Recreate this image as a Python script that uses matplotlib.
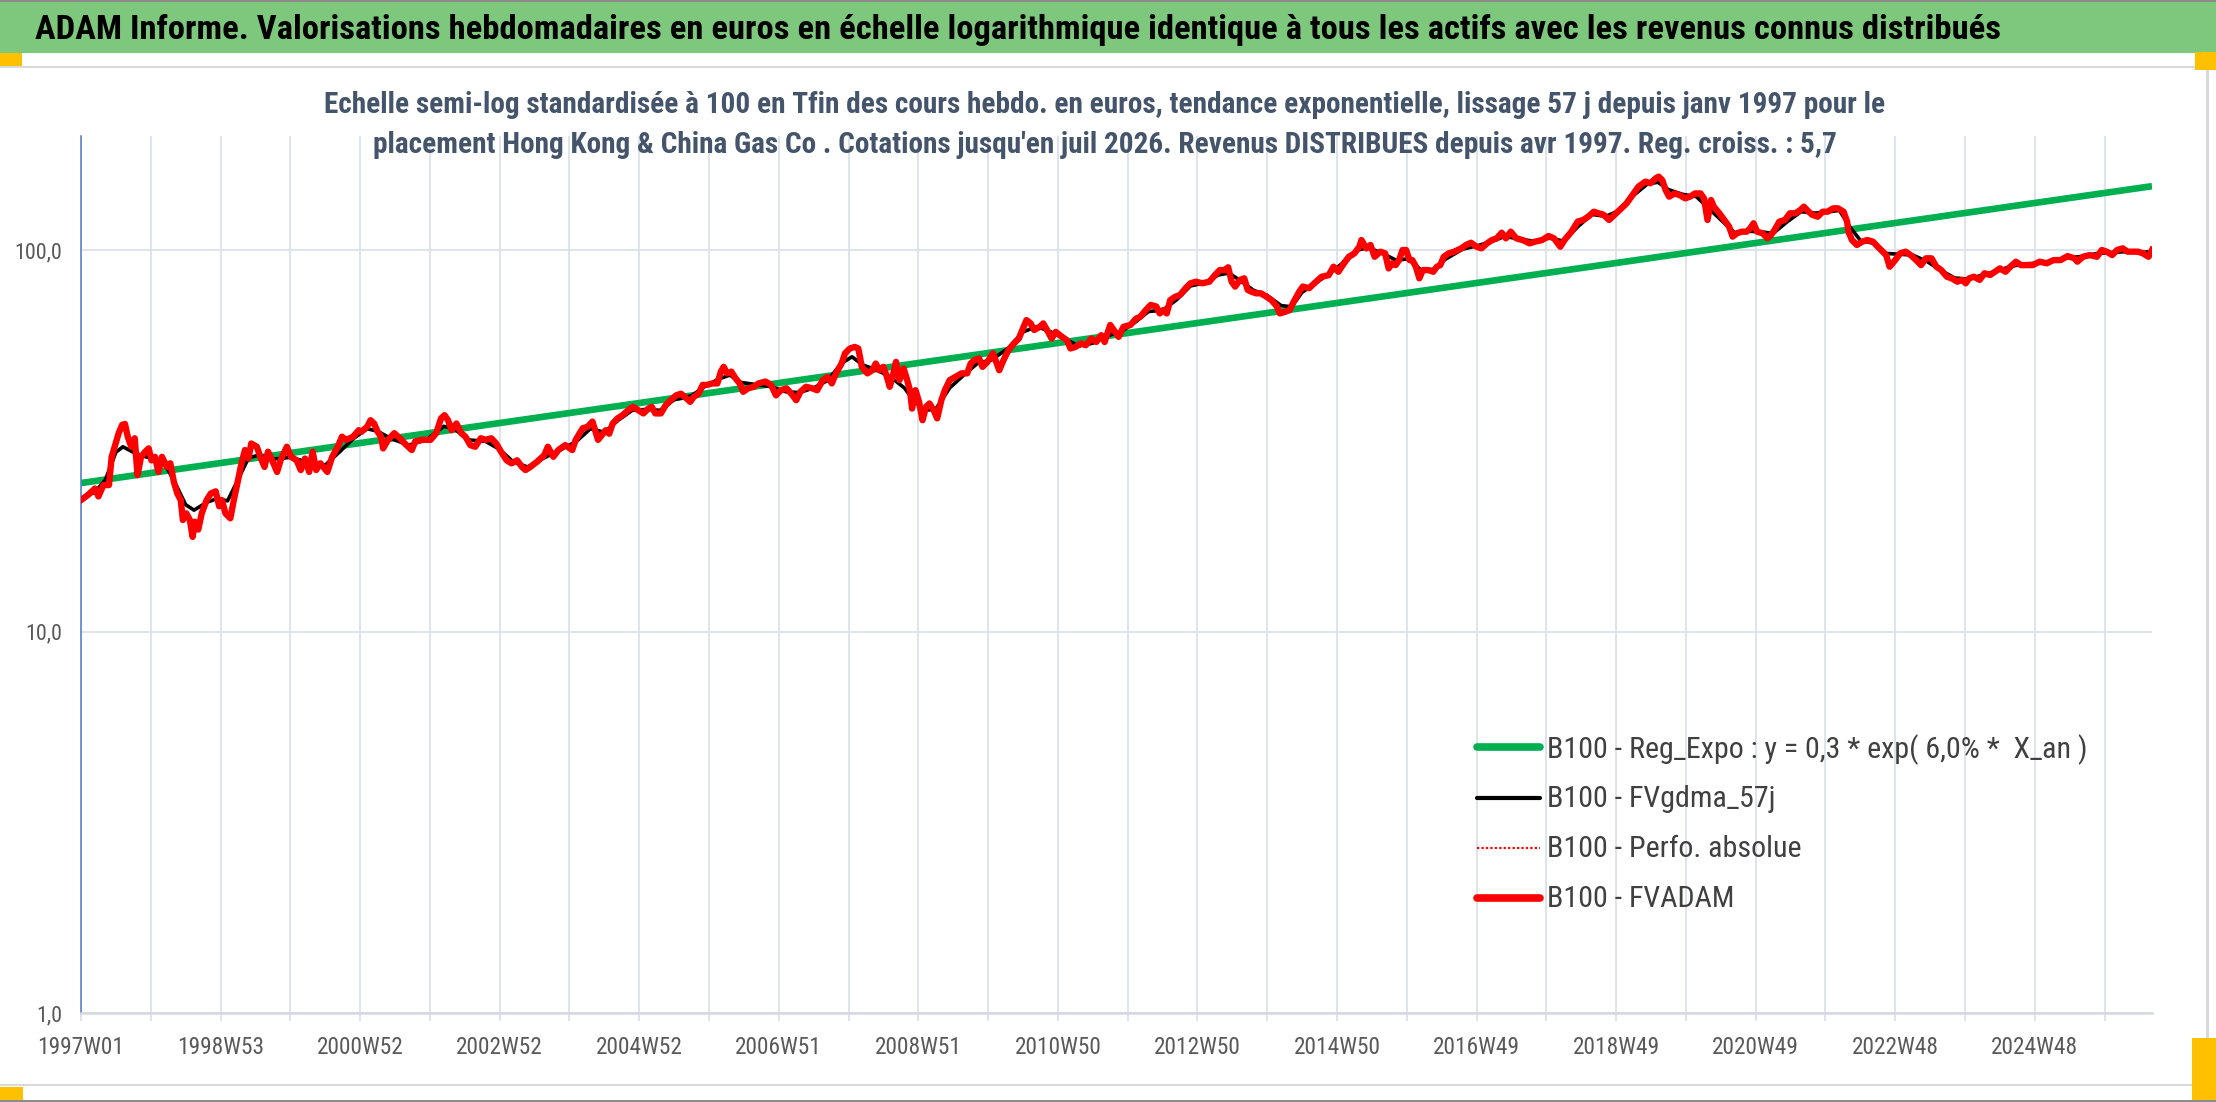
import matplotlib
matplotlib.use("Agg")
import matplotlib.pyplot as plt
from matplotlib import font_manager as fm
from matplotlib.patches import Rectangle
from matplotlib.lines import Line2D
from matplotlib.ticker import FixedLocator, FixedFormatter, NullFormatter, NullLocator

# ---------------- data ----------------
tick_labels = ["1997W01", "1998W53", "2000W52", "2002W52", "2004W52", "2006W51",
               "2008W51", "2010W50", "2012W50", "2014W50", "2016W49", "2018W49",
               "2020W49", "2022W48", "2024W48"]
tick_years = [1997, 1999, 2001, 2003, 2005, 2007, 2009, 2011, 2013, 2015, 2017,
              2019, 2021, 2023, 2025]
ytick_values = [1, 10, 100]
ytick_labels = ["1,0", "10,0", "100,0"]

trend_dates = [1997.0, 2026.68]
trend_values = [24.5, 147.0]

red_dates = [
    1997.00, 1997.10, 1997.20, 1997.25, 1997.32, 1997.40, 1997.44, 1997.49, 1997.54, 1997.59,
    1997.63, 1997.67, 1997.72, 1997.77, 1997.81, 1997.86, 1997.92, 1997.97, 1998.01, 1998.06,
    1998.11, 1998.16, 1998.23, 1998.28, 1998.33, 1998.38, 1998.43, 1998.46, 1998.51, 1998.56,
    1998.60, 1998.63, 1998.68, 1998.73, 1998.80, 1998.86, 1998.93, 1998.98, 1999.02, 1999.07,
    1999.14, 1999.19, 1999.25, 1999.30, 1999.35, 1999.40, 1999.44, 1999.52, 1999.57, 1999.63,
    1999.68, 1999.74, 1999.81, 1999.86, 1999.95, 2000.01, 2000.09, 2000.15, 2000.21, 2000.27,
    2000.32, 2000.37, 2000.43, 2000.53, 2000.60, 2000.68, 2000.74, 2000.80, 2000.90, 2000.98,
    2001.02, 2001.10, 2001.15, 2001.20, 2001.25, 2001.30, 2001.33, 2001.40, 2001.49, 2001.57,
    2001.64, 2001.74, 2001.79, 2001.89, 2002.01, 2002.09, 2002.16, 2002.21, 2002.26, 2002.31,
    2002.35, 2002.38, 2002.45, 2002.51, 2002.58, 2002.65, 2002.73, 2002.80, 2002.88, 2002.95,
    2003.02, 2003.10, 2003.17, 2003.25, 2003.32, 2003.37, 2003.44, 2003.54, 2003.64, 2003.69,
    2003.77, 2003.84, 2003.94, 2004.04, 2004.09, 2004.19, 2004.26, 2004.33, 2004.41,
    2004.52, 2004.57, 2004.62, 2004.69, 2004.76, 2004.84, 2004.91, 2004.99, 2005.06, 2005.13,
    2005.18, 2005.23, 2005.31, 2005.38, 2005.45, 2005.53, 2005.60, 2005.68, 2005.73, 2005.78,
    2005.85, 2005.91, 2005.97, 2006.05, 2006.12, 2006.17, 2006.21, 2006.26, 2006.32, 2006.38,
    2006.44, 2006.49, 2006.56, 2006.64, 2006.71, 2006.81, 2006.89, 2006.96, 2007.03, 2007.11,
    2007.18, 2007.25, 2007.31, 2007.39, 2007.48, 2007.55, 2007.63, 2007.70, 2007.76, 2007.82,
    2007.90, 2007.95, 2008.02, 2008.09, 2008.14, 2008.19, 2008.27, 2008.34, 2008.39, 2008.44,
    2008.50, 2008.55, 2008.59, 2008.63, 2008.68, 2008.73, 2008.79, 2008.84, 2008.88, 2008.91,
    2008.96, 2009.01, 2009.06, 2009.11, 2009.16, 2009.22, 2009.27, 2009.33, 2009.38, 2009.45,
    2009.53, 2009.62, 2009.70, 2009.75, 2009.80, 2009.87, 2009.92, 2009.99, 2010.07, 2010.16,
    2010.22, 2010.29, 2010.37, 2010.44, 2010.49, 2010.55, 2010.61, 2010.66, 2010.74, 2010.79,
    2010.86, 2010.91, 2010.97, 2011.06, 2011.13, 2011.18, 2011.25, 2011.33, 2011.40, 2011.48,
    2011.55, 2011.62, 2011.67, 2011.75, 2011.82, 2011.87, 2011.94, 2012.04, 2012.12, 2012.18,
    2012.26, 2012.33, 2012.41, 2012.46, 2012.51, 2012.56, 2012.61, 2012.68, 2012.75, 2012.83,
    2012.90, 2012.98, 2013.07, 2013.17, 2013.25, 2013.32, 2013.39, 2013.44, 2013.49, 2013.54,
    2013.61, 2013.67, 2013.72, 2013.77, 2013.84, 2013.91, 2013.99, 2014.06, 2014.14, 2014.18,
    2014.26, 2014.32, 2014.38, 2014.46, 2014.51, 2014.60, 2014.70, 2014.78, 2014.88, 2014.95,
    2015.02, 2015.10, 2015.17, 2015.25, 2015.32, 2015.35, 2015.42, 2015.48, 2015.54, 2015.62,
    2015.69, 2015.74, 2015.79, 2015.84, 2015.89, 2015.94, 2015.99, 2016.04, 2016.08, 2016.13,
    2016.18, 2016.23, 2016.31, 2016.38, 2016.43, 2016.48, 2016.53, 2016.60, 2016.68, 2016.78,
    2016.85, 2016.92, 2017.00, 2017.07, 2017.15, 2017.22, 2017.29, 2017.36, 2017.42, 2017.49,
    2017.57, 2017.66, 2017.76, 2017.84, 2017.94, 2018.03, 2018.11, 2018.20, 2018.26, 2018.36,
    2018.45, 2018.53, 2018.60, 2018.68, 2018.75, 2018.82, 2018.90, 2018.95, 2019.05, 2019.15,
    2019.25, 2019.32,
    2019.42, 2019.49, 2019.57, 2019.61, 2019.66, 2019.71, 2019.76, 2019.84, 2019.91, 2019.99,
    2020.06, 2020.13, 2020.21, 2020.26, 2020.31, 2020.36, 2020.40, 2020.48, 2020.55, 2020.62,
    2020.67, 2020.73, 2020.80, 2020.87, 2020.92, 2020.97, 2021.02, 2021.10, 2021.17, 2021.22,
    2021.27, 2021.34, 2021.42, 2021.49, 2021.57, 2021.64, 2021.69, 2021.76, 2021.81, 2021.89,
    2021.96, 2022.03, 2022.11, 2022.18, 2022.26, 2022.31, 2022.33, 2022.38, 2022.45, 2022.53,
    2022.60, 2022.68, 2022.75, 2022.82, 2022.87, 2022.92, 2023.00, 2023.07, 2023.15, 2023.22,
    2023.30, 2023.37, 2023.44, 2023.52, 2023.59, 2023.66, 2023.74, 2023.81, 2023.89, 2023.96,
    2024.01, 2024.06, 2024.13, 2024.21, 2024.28, 2024.36, 2024.43, 2024.50, 2024.58, 2024.65,
    2024.73, 2024.80, 2024.87, 2024.97, 2025.07, 2025.17, 2025.27, 2025.37, 2025.47, 2025.57,
    2025.61, 2025.69, 2025.79, 2025.89, 2025.96, 2026.03, 2026.11, 2026.18, 2026.26, 2026.33,
    2026.40, 2026.48, 2026.55, 2026.63, 2026.68]

red_values = [
    22.1, 22.8, 23.7, 22.6, 24.2, 24.2, 28.7, 30.8, 33.1, 34.8,
    35.0, 32.4, 30.5, 32.1, 25.7, 28.7, 29.6, 30.2, 28.1, 28.7,
    26.2, 28.7, 27.0, 27.6, 24.7, 23.0, 22.1, 19.6, 20.4, 19.6,
    17.7, 19.4, 18.5, 20.4, 22.1, 23.0, 23.3, 21.3, 22.1, 20.4,
    19.8, 22.1, 24.9, 27.6, 29.9, 28.4, 31.1, 30.5, 28.7, 27.0,
    29.6, 28.1, 26.2, 28.1, 30.5, 28.7, 28.1, 26.5, 28.4, 26.2,
    29.6, 26.5, 27.6, 26.2, 28.7, 30.5, 32.4, 31.8, 32.4, 33.7,
    33.4, 34.4, 35.8, 35.1, 33.4, 32.4, 30.2, 31.8, 33.1, 32.1,
    31.1, 29.9, 31.5, 31.8, 31.8, 33.1, 36.2, 36.9, 35.8, 33.7,
    34.4, 35.1, 33.1, 32.4, 30.8, 30.5, 32.1, 31.8, 32.1, 31.1,
    29.6, 28.1, 27.6, 28.1, 27.0, 26.5, 27.0, 27.9, 29.0, 30.5,
    28.7, 29.9, 30.8, 29.9, 31.8, 34.1, 34.4, 35.5, 31.8,
    33.7, 33.0, 35.1, 36.2, 36.9, 38.0, 38.8, 38.0, 37.3, 38.4,
    38.8, 37.3, 37.3, 39.2, 40.4, 41.6, 42.0, 40.8, 40.0, 41.2,
    42.0, 44.3, 44.3, 44.7, 44.7, 48.0, 49.4, 47.5, 48.0, 46.1,
    44.7, 42.5, 43.4, 43.8, 44.7, 45.2, 44.3, 41.6, 42.9, 43.4,
    42.0, 40.4, 42.5, 43.8, 43.4, 42.9, 45.6, 46.5, 44.7, 47.5,
    50.4, 53.6, 55.2, 55.7, 55.2, 49.4, 47.5, 48.4, 50.4, 48.4,
    49.4, 46.5, 43.8, 46.5, 50.9, 45.6, 48.9, 45.6, 42.9, 38.4,
    42.9, 40.0, 35.8, 38.8, 39.6, 38.0, 36.2, 40.4, 42.9, 45.6,
    46.5, 47.5, 47.5, 50.4, 51.4, 52.0, 49.4, 50.9, 53.6, 48.4,
    51.4, 54.6, 56.9, 58.6, 61.7, 65.5, 64.2, 61.7, 62.9, 64.2,
    61.0, 58.6, 61.0, 59.2, 58.0, 55.2, 55.7, 56.9, 56.3, 58.6,
    57.4, 59.8, 57.4, 63.6, 61.0, 59.2, 62.9, 63.6, 66.1, 66.8,
    69.6, 71.8, 71.1, 68.2, 69.6, 68.2, 73.9, 75.4, 76.2, 79.4,
    81.8, 82.6, 81.8, 82.6, 85.9, 88.6, 88.6, 90.1, 82.6, 80.2,
    83.5, 84.3, 78.6, 77.8, 77.0, 77.0, 75.4, 73.9, 71.1, 68.2,
    68.9, 69.6, 73.2, 77.8, 80.2, 79.4, 82.6, 85.1, 85.9, 90.4,
    87.7, 92.3, 96.0, 98.0, 102.0, 106.2, 101.0, 103.1, 96.0, 99.0,
    98.0, 89.5, 92.3, 91.3, 94.1, 100.0, 100.0, 94.1, 94.1, 90.4,
    84.3, 88.6, 88.6, 87.7, 90.4, 91.3, 96.0, 98.0, 99.0, 101.0,
    103.1, 104.5, 102.0, 101.0, 104.1, 106.2, 107.3, 111.0, 107.3, 111.7,
    107.3, 106.2, 104.1, 105.2, 106.2, 108.8, 107.3, 102.0, 106.2, 111.7,
    118.7, 119.9, 122.3, 126.0, 124.8, 123.7, 119.9, 122.3, 127.3, 132.5,
    140.7, 146.6,
    151.1, 149.6, 154.2, 155.7, 152.6, 143.6, 138.0, 140.7, 139.3, 136.6,
    138.0, 140.7, 140.7, 136.6, 119.9, 135.2, 129.9, 124.8, 119.9, 115.1,
    108.4, 110.6, 111.7, 111.7, 113.9, 117.5, 111.7, 110.6, 107.3, 109.5,
    112.8, 118.7, 119.9, 124.8, 124.8, 127.3, 129.9, 126.0, 123.7, 122.3,
    126.0, 126.0, 128.6, 128.6, 126.0, 118.7, 111.7, 106.2, 103.1, 105.2,
    106.2, 105.2, 102.0, 99.0, 97.0, 90.4, 94.1, 98.0, 99.0, 97.0,
    94.1, 91.3, 95.1, 95.1, 90.4, 88.6, 85.1, 84.3, 82.6, 83.5,
    81.8, 84.3, 85.1, 83.5, 86.9, 86.0, 87.7, 89.5, 87.7, 90.4,
    93.2, 91.3, 91.3, 91.3, 93.2, 92.3, 94.1, 94.1, 96.4, 95.1,
    93.2, 96.0, 97.0, 96.0, 100.0, 99.0, 97.0, 100.0, 101.0, 99.0,
    99.0, 99.0, 98.0, 96.0, 100.0]

black_dates = [
    1997.0, 1997.2, 1997.35, 1997.5, 1997.6, 1997.75, 1997.9, 1998.05, 1998.2, 1998.35,
    1998.5, 1998.62, 1998.8, 1998.95, 1999.1, 1999.25, 1999.4, 1999.55, 1999.75, 2000.0,
    2000.25, 2000.5, 2000.7, 2000.9, 2001.1, 2001.25, 2001.45, 2001.7, 2001.95, 2002.2,
    2002.35, 2002.55, 2002.8, 2003.0, 2003.2, 2003.4, 2003.6, 2003.85, 2004.1, 2004.3,
    2004.5, 2004.7, 2004.9, 2005.1, 2005.3, 2005.5, 2005.75, 2005.95, 2006.15, 2006.3,
    2006.45, 2006.7, 2006.9, 2007.1, 2007.3, 2007.5, 2007.7, 2007.9, 2008.05, 2008.2,
    2008.4, 2008.6, 2008.8, 2008.95, 2009.1, 2009.25, 2009.45, 2009.65, 2009.85, 2010.05,
    2010.3, 2010.5, 2010.7, 2010.9, 2011.1, 2011.3, 2011.5, 2011.7, 2011.9, 2012.1,
    2012.3, 2012.5, 2012.7, 2012.9, 2013.1, 2013.3, 2013.45, 2013.6, 2013.8, 2014.0,
    2014.2, 2014.35, 2014.5, 2014.7, 2014.9, 2015.1, 2015.3, 2015.45, 2015.65, 2015.85,
    2016.05, 2016.2, 2016.4, 2016.55, 2016.8, 2017.0, 2017.2, 2017.4, 2017.6, 2017.85,
    2018.05, 2018.25, 2018.45, 2018.65, 2018.85, 2019.05, 2019.25, 2019.45, 2019.6, 2019.75,
    2019.95, 2020.15, 2020.3, 2020.5, 2020.7, 2020.9, 2021.1, 2021.25, 2021.45, 2021.65,
    2021.85, 2022.05, 2022.2, 2022.35, 2022.5, 2022.7, 2022.85, 2023.05, 2023.25, 2023.45,
    2023.65, 2023.85, 2024.05, 2024.25, 2024.45, 2024.65, 2024.85, 2025.05, 2025.3, 2025.5,
    2025.7, 2025.9, 2026.1, 2026.3, 2026.5, 2026.68]

black_values = [
    22.3, 23.2, 25.0, 29.5, 30.5, 29.5, 28.8, 28.3, 27.5, 24.5,
    21.5, 20.8, 21.8, 22.3, 22.0, 25.0, 28.5, 29.0, 28.3, 28.6,
    27.8, 27.3, 29.5, 32.0, 34.0, 33.5, 32.0, 30.8, 31.8, 34.5,
    34.0, 31.8, 31.5, 30.0, 27.8, 27.0, 28.3, 29.8, 31.5, 34.0,
    33.3, 35.8, 38.0, 38.2, 38.0, 40.5, 41.5, 44.0, 46.0, 47.0,
    45.0, 44.3, 43.8, 42.5, 42.3, 43.5, 45.5, 50.5, 52.5, 50.0,
    48.5, 46.5, 43.5, 40.0, 38.0, 38.3, 43.5, 47.0, 50.5, 51.5,
    55.5, 61.0, 63.0, 61.0, 58.5, 56.0, 57.0, 59.5, 61.0, 64.5,
    69.0, 69.5, 74.0, 80.5, 82.0, 86.0, 87.0, 83.5, 78.5, 76.0,
    71.5, 71.0, 77.5, 82.0, 87.0, 93.0, 100.0, 101.5, 98.0, 94.0,
    95.0, 88.5, 89.0, 94.5, 100.5, 102.5, 105.0, 108.5, 107.0, 105.2,
    107.5, 105.5, 115.0, 124.0, 122.5, 127.0, 139.0, 149.0, 150.5, 144.0,
    140.0, 138.0, 130.0, 120.0, 111.0, 112.0, 111.5, 110.5, 118.5, 126.0,
    125.0, 126.0, 127.0, 115.0, 106.0, 104.0, 98.0, 97.5, 97.0, 93.5,
    88.5, 84.5, 83.8, 86.0, 88.0, 90.5, 92.0, 92.3, 94.0, 95.5,
    96.3, 98.0, 98.5, 99.0, 98.5, 99.0]

title_text = ("ADAM Informe. Valorisations hebdomadaires en euros en échelle logarithmique "
              "identique à tous les actifs avec les revenus connus distribués")
subtitle_1 = ("Echelle semi-log standardisée à 100 en Tfin des cours hebdo. en euros, tendance "
              "exponentielle, lissage 57 j depuis janv 1997 pour le")
subtitle_2 = ("placement Hong Kong & China Gas Co . Cotations jusqu'en juil 2026. Revenus "
              "DISTRIBUES depuis avr 1997. Reg. croiss. : 5,7")
legend_labels = ["B100 - Reg_Expo : y = 0,3 * exp( 6,0% *  X_an )",
                 "B100 - FVgdma_57j",
                 "B100 - Perfo. absolue",
                 "B100 - FVADAM"]

# ---------------- style ----------------
W, H, DPI = 2216, 1102, 100
GREEN = "#00B050"
RED = "#FF0000"
GRID = "#DCE1E9"
TICK_COLOR = "#595959"
SUB_COLOR = "#44546A"
LEG_COLOR = "#404040"

names = {f.name for f in fm.fontManager.ttflist}
FONT = next((c for c in ["Liberation Sans Narrow", "Roboto Condensed", "Open Sans Condensed",
                         "Noto Sans", "Open Sans", "DejaVu Sans"] if c in names), "DejaVu Sans")
plt.rcParams["font.family"] = [FONT, "DejaVu Sans"]

fig = plt.figure(figsize=(W / DPI, H / DPI), dpi=DPI, facecolor="white")
renderer = fig.canvas.get_renderer()


def fx(x):
    return x / W


def fy(y):
    return 1 - y / H


def rect(x0, y0, x1, y1, color, z=0):
    fig.add_artist(Rectangle((fx(x0), fy(y1)), (x1 - x0) / W, (y1 - y0) / H,
                             transform=fig.transFigure, facecolor=color,
                             edgecolor="none", zorder=z))


def size_for(s, target, weight="normal", base=20.0):
    t = fig.text(0, 0, s, fontsize=base, weight=weight)
    w = t.get_window_extent(renderer=renderer).width
    t.remove()
    return base * target / w


# frame decorations
rect(0, 0, W, 2, "#8C8C8C")
rect(0, 2, W, 53, "#7EC87E")
rect(0, 66, 2205, 68, "#D9D9D9")
rect(2206, 68, 2209, 1038, "#D9D9D9")
rect(0, 1084, 2192, 1086, "#D9D9D9")
rect(0, 53, 22, 66, "#FFC000")
rect(2195, 52, W, 70, "#FFC000")
rect(0, 1087, 23, 1100, "#FFC000")
rect(2192, 1038, W, 1100, "#FFC000")
rect(0, 1100, W, H, "#8C8C8C")

# titles
fig.text(fx(35), fy(39), title_text, ha="left", va="baseline", color="black",
         weight="bold", fontsize=size_for(title_text, 1953, "bold"))
sub_fs = 0.5 * (size_for(subtitle_1, 1567, "semibold") + size_for(subtitle_2, 1457, "semibold"))
fig.text(fx(1105), fy(113), subtitle_1, ha="center", va="baseline", color=SUB_COLOR,
         weight="semibold", fontsize=sub_fs)
fig.text(fx(1105), fy(153), subtitle_2, ha="center", va="baseline", color=SUB_COLOR,
         weight="semibold", fontsize=sub_fs)

# ---------------- axes ----------------
ax = fig.add_axes([fx(81), fy(1013), (2152 - 81) / W, (1013 - 136) / H])
ax.set_facecolor("white")
ax.set_yscale("log")
ax.set_xlim(1997.0, 2026.68)
ax.set_ylim(1, 199)

ax.plot(trend_dates, trend_values, color=GREEN, lw=4.8, zorder=2, solid_capstyle="butt")
ax.plot(black_dates, black_values, color="black", lw=2.6, zorder=3)
ax.plot(red_dates, red_values, color=RED, lw=1.4, ls=":", zorder=4)
ax.plot(red_dates, red_values, color=RED, lw=4.6, zorder=5, solid_joinstyle="round")

for s in ["top", "right"]:
    ax.spines[s].set_visible(False)
ax.spines["left"].set_color("#4F78C4")
ax.spines["left"].set_linewidth(1.1)
ax.spines["bottom"].set_color("#D5D9DF")
ax.spines["bottom"].set_linewidth(1.8)

xfs = size_for("1997W01", 87)
yfs = size_for("100,0", 48)

ax.xaxis.set_major_locator(FixedLocator(tick_years))
ax.xaxis.set_major_formatter(FixedFormatter(tick_labels))
ax.xaxis.set_minor_locator(FixedLocator(list(range(1997, 2027))))
ax.xaxis.set_minor_formatter(NullFormatter())
ax.yaxis.set_major_locator(FixedLocator(ytick_values))
ax.yaxis.set_major_formatter(FixedFormatter(ytick_labels))
ax.yaxis.set_minor_locator(NullLocator())

ax.grid(which="both", axis="x", color=GRID, lw=1.3, zorder=0)
ax.grid(which="major", axis="y", color=GRID, lw=1.3, zorder=0)
ax.set_axisbelow(True)
ax.tick_params(axis="x", which="both", length=5.8, width=1.3, color=GRID,
               direction="out", labelsize=xfs, labelcolor=TICK_COLOR, pad=10)
ax.tick_params(axis="y", which="both", length=0, labelsize=yfs,
               labelcolor=TICK_COLOR, pad=13.7)

# fine-tune the x label vertical position
fig.canvas.draw()
lab = ax.get_xticklabels()[0]
bb = lab.get_window_extent(renderer=renderer)
cur_center = H - (bb.y0 + bb.y1) / 2.0
want_center = 1048.0
ax.tick_params(axis="x", which="both", pad=10 + (want_center - cur_center) * 72.0 / DPI)

# ---------------- legend ----------------
leg_fs = size_for(legend_labels[0], 540)
leg_rows = [(747, 758), (798, 807), (848, 857), (898, 907)]
leg_styles = [dict(color=GREEN, lw=5.5, ls="-"),
              dict(color="black", lw=3.0, ls="-"),
              dict(color=RED, lw=1.6, ls=(0, (1, 1))),
              dict(color=RED, lw=5.5, ls="-")]
for label, (yl, yb), st in zip(legend_labels, leg_rows, leg_styles):
    fig.add_artist(Line2D([fx(1477), fx(1540)], [fy(yl), fy(yl)], transform=fig.transFigure,
                          solid_capstyle="round", **st))
    fig.text(fx(1547), fy(yb), label, ha="left", va="baseline", color=LEG_COLOR,
             fontsize=leg_fs)

fig.savefig("out.png", dpi=DPI, facecolor="white")
